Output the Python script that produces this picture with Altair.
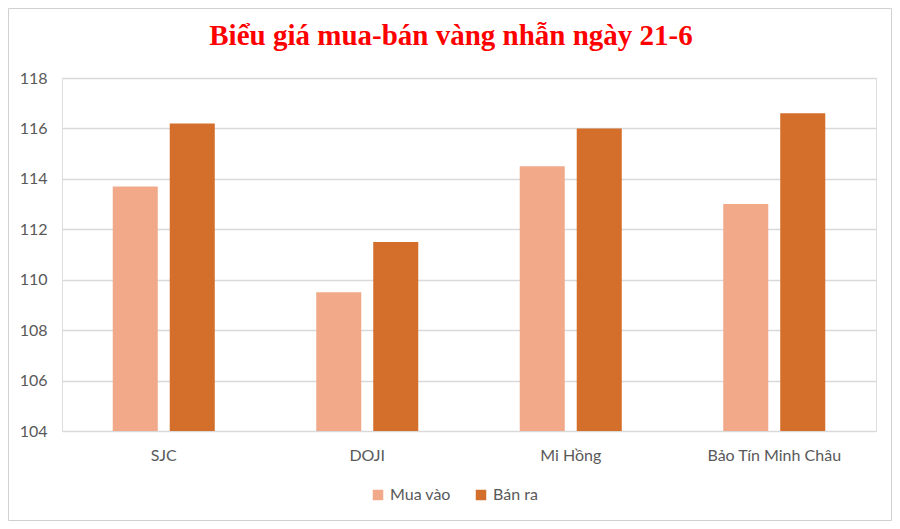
import altair as alt
import pandas as pd

categories = ["SJC", "DOJI", "Mi Hồng", "Bảo Tín Minh Châu"]
series = ["Mua vào", "Bán ra"]
mua_vao = [113.7, 109.5, 114.5, 113.0]
ban_ra = [116.2, 111.5, 116.0, 116.6]
y_ticks = [104, 106, 108, 110, 112, 114, 116, 118]
colors = ["#F1A98A", "#D36E2B"]
title_text = "Biểu giá mua-bán vàng nhẫn ngày 21-6"

rows = []
for c, m, b in zip(categories, mua_vao, ban_ra):
    rows.append({"cat": c, "series": series[0], "value": m})
    rows.append({"cat": c, "series": series[1], "value": b})
df = pd.DataFrame(rows)

W, H = 814, 353
PL, PT, PR, PB = 54, 70, 16, 90
FONT = "Lato"

bars = alt.Chart(df).mark_bar(clip=True).encode(
    x=alt.X("cat:N", sort=categories,
            scale=alt.Scale(paddingInner=0, paddingOuter=0),
            axis=alt.Axis(title=None, labelAngle=0, ticks=False, domain=False,
                          labelFontSize=16, labelColor="#595959", labelFont=FONT,
                          labelPadding=16)),
    xOffset=alt.XOffset("series:N", sort=series,
                        scale=alt.Scale(paddingInner=0.21, paddingOuter=0.89)),
    y=alt.Y("value:Q", scale=alt.Scale(domain=[104, 118], nice=False, zero=False),
            axis=alt.Axis(title=None, values=y_ticks, ticks=False, domain=False,
                          gridColor="#d9d9d9", gridWidth=1.3,
                          labelFontSize=16, labelColor="#595959", labelFont=FONT,
                          labelPadding=15)),
    color=alt.Color("series:N", sort=series,
                    scale=alt.Scale(domain=series, range=colors),
                    legend=alt.Legend(title=None, orient="none", direction="horizontal",
                                      legendX=308, legendY=409,
                                      symbolType="square", symbolSize=110,
                                      symbolStrokeWidth=0,
                                      labelFontSize=16, labelColor="#595959",
                                      labelFont=FONT, columnPadding=22, labelOffset=4)),
)

border = alt.Chart(pd.DataFrame({"a": [0]})).mark_rect(
    fill=None, stroke="#d0d0d0", strokeWidth=1
).encode(
    x=alt.value(-PL + 0.5), x2=alt.value(W + PR - 0.5),
    y=alt.value(-PT + 0.5), y2=alt.value(H + PB - 0.5),
)

title_mark = alt.Chart(pd.DataFrame({"t": [title_text]})).mark_text(
    font="Liberation Serif", fontSize=29, fontWeight="bold", color="#FF0000",
    align="center", baseline="alphabetic"
).encode(
    text="t:N",
    x=alt.value(389), y=alt.value(-33),
)

chart = alt.layer(bars, border, title_mark).properties(
    width=W, height=H,
    padding={"left": PL, "top": PT, "right": PR, "bottom": PB},
    autosize=alt.AutoSizeParams(type="none"),
).configure_view(stroke=None).configure(background="white")

chart.save("out.html", embed_options={"renderer": "svg", "actions": False})
